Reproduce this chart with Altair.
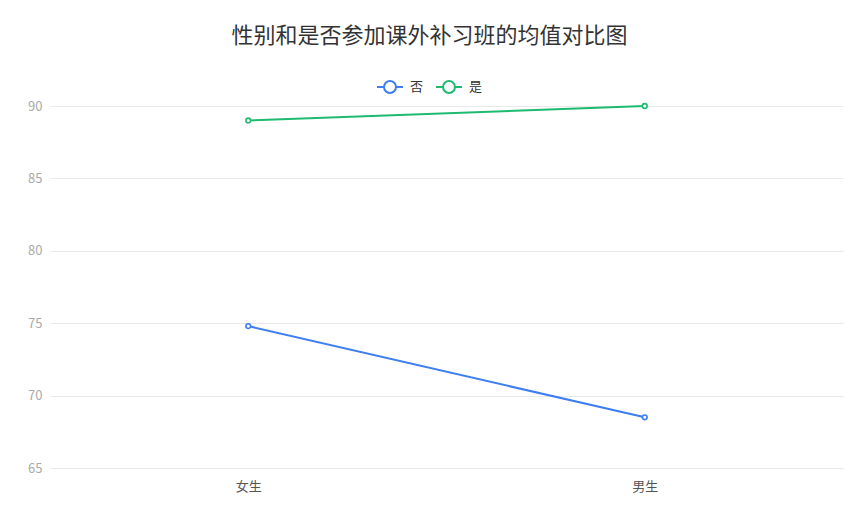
import altair as alt
import pandas as pd

genders = ["女生", "男生"]
groups = ["否", "是"]
vals_no = [74.8, 68.5]
vals_yes = [89.0, 90.0]
y_ticks = [65, 70, 75, 80, 85, 90]
colors = ["#3d7ef0", "#1dba70"]

rows = []
for g, v in zip(genders, vals_no):
    rows.append({"gender": g, "group": "否", "mean": v})
for g, v in zip(genders, vals_yes):
    rows.append({"gender": g, "group": "是", "mean": v})
df = pd.DataFrame(rows)

FONT = "Noto Sans CJK SC"
sym = ("M-1,0L-0.46,0M0.46,0L1,0M-0.46,0A0.46,0.46,0,1,1,0.46,0"
       "A0.46,0.46,0,1,1,-0.46,0Z")

color = alt.Color(
    "group:N",
    scale=alt.Scale(domain=groups, range=colors),
    legend=alt.Legend(
        title=None, orient="none", direction="horizontal",
        legendX=326, legendY=-33,
        symbolType=sym, symbolSize=676, symbolStrokeWidth=2,
        symbolFillColor="white",
        labelFont=FONT, labelFontSize=13, labelColor="#333333",
        labelOffset=6, columnPadding=8, padding=0,
    ),
)

x = alt.X("gender:N", sort=genders, title=None,
          scale=alt.Scale(type="point", padding=0.5),
          axis=alt.Axis(labelAngle=0, domain=False, ticks=False, grid=False,
                        labelFont=FONT, labelFontSize=13, labelColor="#555555",
                        labelPadding=12))
y = alt.Y("mean:Q", title=None,
          scale=alt.Scale(domain=[65, 90], nice=False, zero=False),
          axis=alt.Axis(values=y_ticks, domain=False, ticks=False,
                        gridColor="#e9e9e9", gridWidth=1,
                        labelFont=FONT, labelFontSize=13, labelColor="#aaaaaa",
                        labelPadding=8))

base = alt.Chart(df).encode(x=x, y=y, color=color)
lines = base.mark_line(strokeWidth=2)
points = base.mark_point(shape="circle", filled=False, fill="white", fillOpacity=1,
                         size=22, strokeWidth=1.6, opacity=1)

chart = alt.layer(lines, points).properties(
    width=793, height=362,
    title=alt.Title("性别和是否参加课外补习班的均值对比图", font=FONT, fontSize=22,
                    fontWeight="normal", color="#333333", anchor="middle", dx=-17,
                    offset=25),
    autosize=alt.AutoSizeParams(type="none"),
    padding={"left": 42, "top": 98, "right": 7, "bottom": 44},
).configure(background="white").configure_view(stroke=None)

chart.save("out.html", embed_options={"renderer": "svg", "actions": False})
